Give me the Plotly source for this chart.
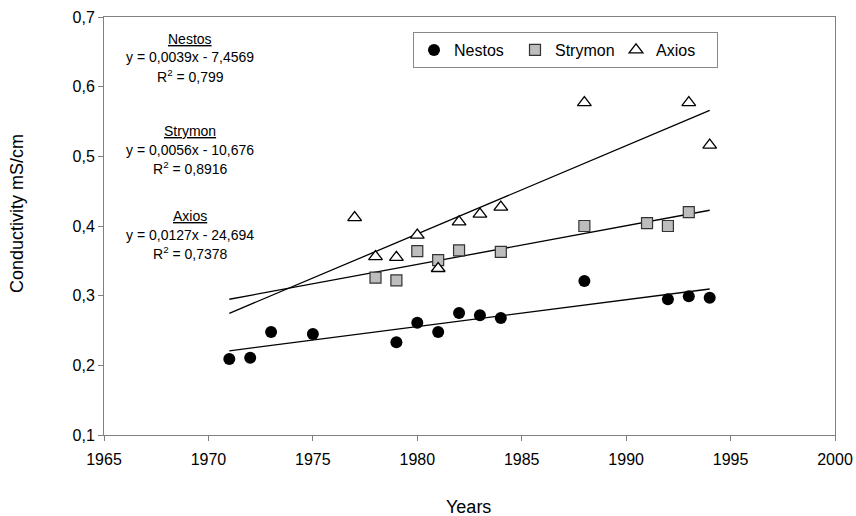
import numpy as np
import plotly.graph_objects as go

nestos_years = [1971, 1972, 1973, 1975, 1979, 1980, 1981, 1982, 1983, 1984, 1988, 1992, 1993, 1994]
nestos_vals = [0.209, 0.211, 0.248, 0.245, 0.233, 0.261, 0.248, 0.275, 0.272, 0.268, 0.321, 0.295, 0.299, 0.297]

strymon_years = [1978, 1979, 1980, 1981, 1982, 1984, 1988, 1991, 1992, 1993]
strymon_vals = [0.326, 0.322, 0.364, 0.351, 0.365, 0.363, 0.400, 0.404, 0.400, 0.420]

axios_years = [1977, 1978, 1979, 1980, 1981, 1982, 1983, 1984, 1988, 1993, 1994]
axios_vals = [0.412, 0.356, 0.355, 0.387, 0.339, 0.406, 0.417, 0.427, 0.577, 0.577, 0.516]

trend_span = [1971, 1994]

equations = [
    ("Nestos", "y = 0,0039x - 7,4569", "R<sup>2</sup> = 0,799"),
    ("Strymon", "y = 0,0056x - 10,676", "R<sup>2</sup> = 0,8916"),
    ("Axios", "y = 0,0127x - 24,694", "R<sup>2</sup> = 0,7378"),
]

FONT = "Liberation Sans, Arial, sans-serif"

W, H = 856, 516
# plot area in screen pixels
SX0, SX1, SY0, SY1 = 104, 835, 17, 435
L, T = SX0, SY0
R, B = W - SX1, H - SY1
pw, ph = SX1 - SX0, SY1 - SY0

def px2x(px):
    return (px - SX0) / pw

def px2y(py):
    return 1 - (py - SY0) / ph

fig = go.Figure()

def trend(xs, ys):
    k, b = np.polyfit(xs, ys, 1)
    tx = np.array(trend_span, dtype=float)
    return tx, k * tx + b

for xs, ys in [(nestos_years, nestos_vals), (strymon_years, strymon_vals), (axios_years, axios_vals)]:
    tx, ty = trend(xs, ys)
    fig.add_trace(go.Scatter(x=tx, y=ty, mode="lines", line=dict(color="black", width=1.3),
                             showlegend=False, hoverinfo="skip"))

fig.add_trace(go.Scatter(x=nestos_years, y=nestos_vals, mode="markers", name="Nestos",
                         marker=dict(symbol="circle", size=12, color="black", line=dict(width=0))))
fig.add_trace(go.Scatter(x=strymon_years, y=strymon_vals, mode="markers", name="Strymon",
                         marker=dict(symbol="square", size=11, color="#bdbdbd", line=dict(color="#333", width=1.2))))
fig.add_trace(go.Scatter(x=axios_years, y=axios_vals, mode="markers", name="Axios",
                         marker=dict(symbol="triangle-up", size=12, color="white", line=dict(color="black", width=1.3))))

ann = []
tops = [39, 131, 216]
for (name, eq, r2), ty in zip(equations, tops):
    for i, txt in enumerate([f"<u>{name}</u>", eq, r2]):
        ann.append(dict(x=px2x(190), y=px2y(ty + i * 18.5), xref="paper", yref="paper", text=txt,
                        showarrow=False, font=dict(family=FONT, size=14, color="black"),
                        xanchor="center", yanchor="middle"))

ann.append(dict(x=px2x(17), y=px2y(214), xref="paper", yref="paper", text="Conductivity mS/cm",
                textangle=-90, showarrow=False, font=dict(family=FONT, size=18, color="black"),
                xanchor="center", yanchor="middle"))
ann.append(dict(x=px2x(468), y=px2y(507), xref="paper", yref="paper", text="Years",
                showarrow=False, font=dict(family=FONT, size=18, color="black"),
                xanchor="center", yanchor="middle"))

fig.update_layout(
    width=W, height=H,
    margin=dict(l=L, r=R, t=T, b=B, autoexpand=False),
    paper_bgcolor="white", plot_bgcolor="white",
    separators=", ",
    font=dict(family=FONT, color="black"),
    annotations=ann,
    legend=dict(orientation="h", x=px2x(413), y=px2y(32), xanchor="left", yanchor="top",
                bordercolor="#888", borderwidth=1, bgcolor="white",
                font=dict(family=FONT, size=16), itemwidth=30, entrywidth=56),
    xaxis=dict(range=[1965, 2000], dtick=5, tick0=1965, showgrid=False, zeroline=False,
               showline=True, mirror=True, linecolor="#808080", linewidth=1,
               ticks="outside", ticklen=5, tickcolor="#808080", ticklabelstandoff=5,
               tickfont=dict(family=FONT, size=16)),
    yaxis=dict(range=[0.1, 0.7], dtick=0.1, tickformat=".1f", showgrid=False, zeroline=False,
               showline=True, mirror=True, linecolor="#808080", linewidth=1,
               ticks="outside", ticklen=5, tickcolor="#808080",
               tickfont=dict(family=FONT, size=16)),
)

fig.write_html("out.html", config={"displayModeBar": False},
               post_script="document.body.style.margin='0';document.body.style.overflow='hidden';")
